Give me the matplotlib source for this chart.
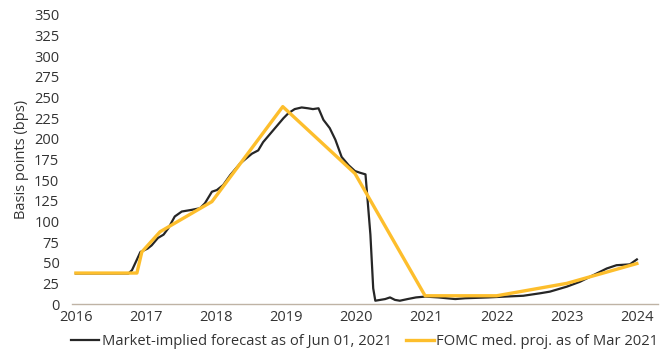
import matplotlib
matplotlib.use('Agg')
import matplotlib.pyplot as plt

# Market-implied path (year fraction, bps)
market_x = [2016.00, 2016.75, 2016.80, 2016.92, 2017.02, 2017.08, 2017.17, 2017.25,
            2017.32, 2017.41, 2017.51, 2017.65, 2017.77, 2017.84, 2017.94, 2018.01,
            2018.10, 2018.20, 2018.34, 2018.51, 2018.60, 2018.67, 2018.74, 2018.86,
            2018.96, 2019.03, 2019.12, 2019.22, 2019.31, 2019.38, 2019.46, 2019.53,
            2019.62, 2019.70, 2019.79, 2019.89, 2019.98, 2020.05, 2020.13, 2020.20,
            2020.24, 2020.27, 2020.41, 2020.48, 2020.55, 2020.62, 2020.73, 2020.85,
            2020.98, 2021.17, 2021.41, 2021.55, 2021.88, 2022.12, 2022.38, 2022.62,
            2022.76, 2023.00, 2023.19, 2023.38, 2023.57, 2023.71, 2023.90, 2024.00]
market_y = [37, 37, 41, 63, 67, 71, 80, 84,
            92, 106, 112, 114, 116, 122, 136, 138,
            144, 156, 170, 182, 186, 196, 203, 215,
            225, 231, 236, 238, 237, 236, 237, 223,
            213, 199, 178, 168, 161, 159, 157, 84,
            19, 4, 6, 8, 5, 4, 6, 8,
            9, 8, 6, 7, 8, 9, 10, 13,
            15, 21, 27, 35, 43, 47, 48, 54]

# FOMC median projection path
fomc_x = [2016.00, 2016.87, 2016.94, 2017.20, 2017.94, 2018.95, 2019.98, 2020.98,
          2022.00, 2023.00, 2024.00]
fomc_y = [37.5, 37.5, 63, 87.5, 124, 239, 158, 10, 10, 25, 49]

year_ticks = list(range(2016, 2025))
y_ticks = list(range(0, 351, 25))

plt.rcParams['font.family'] = ['Open Sans', 'DejaVu Sans']
text_col = '#333333'

fig = plt.figure(figsize=(6.72, 3.56), dpi=100)
ax = fig.add_axes([0.107, 0.146, 0.872, 0.812])

ax.plot(market_x, market_y, color='#262626', lw=1.6,
        label='Market-implied forecast as of Jun 01, 2021')
ax.plot(fomc_x, fomc_y, color='#FDBE2C', lw=2.4,
        label='FOMC med. proj. as of Mar 2021')

ax.set_xlim(2015.943, 2024.30)
ax.set_ylim(0, 350)
ax.set_xticks(year_ticks)
ax.set_xticklabels([str(y) for y in year_ticks])
ax.set_yticks(y_ticks)

for s in ['top', 'right', 'left']:
    ax.spines[s].set_visible(False)
ax.spines['bottom'].set_color('#BFB3A5')
ax.spines['bottom'].set_linewidth(1.0)
ax.tick_params(length=0, labelsize=10.5, colors=text_col)
ax.tick_params(axis='y', pad=9)
ax.tick_params(axis='x', pad=4)

ax.set_ylabel('Basis points (bps)', fontsize=10.5, color=text_col, labelpad=4)

ax.legend(loc='upper center', bbox_to_anchor=(0.5, -0.1), ncol=2, frameon=False,
          fontsize=10.6, handlelength=1.9, handletextpad=0.15, columnspacing=1.0,
          labelcolor=text_col, borderaxespad=0, borderpad=0.1)

fig.savefig('out.png', dpi=100)
